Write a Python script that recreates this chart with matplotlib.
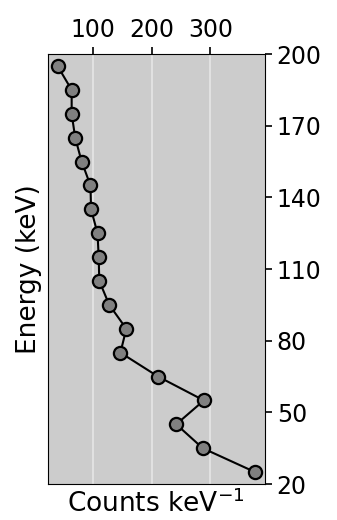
import numpy as np
import matplotlib
matplotlib.use("Agg")
import matplotlib.pyplot as plt

# Data
energy = [195, 185, 175, 165, 155, 145, 135, 125, 115, 105, 95, 85, 75, 65, 55, 45, 35, 25]
counts = [40, 64, 64, 70, 81, 96, 97, 108, 110, 111, 128, 157, 147, 211, 289, 242, 287, 376]
yticks = [20, 50, 80, 110, 140, 170, 200]
xticks = [100, 200, 300]

fig = plt.figure(figsize=(3.37, 5.2), dpi=100)
ax = fig.add_axes([0.1415, 0.0692, 0.6445, 0.8268])

ax.set_facecolor("#cccccc")
ax.plot(counts, energy, "-o", color="black", lw=1.5,
        markerfacecolor="#808080", markeredgecolor="black",
        markeredgewidth=1.6, markersize=9.5)

ax.set_ylim(20, 200)
ax.set_yticks(yticks)
ax.set_xticks(xticks)
ax.grid(axis="x", color="#e6e6e6", lw=1.2)
ax.set_axisbelow(True)

ax.xaxis.tick_top()
ax.yaxis.tick_right()
ax.tick_params(labelsize=17, length=5, width=1.2)
ax.set_xlabel("Counts keV$^{-1}$", fontsize=19)
ax.xaxis.set_label_position("bottom")
ax.set_ylabel("Energy (keV)", fontsize=19)
ax.yaxis.set_label_position("left")

fig.savefig("out.png", dpi=100)
